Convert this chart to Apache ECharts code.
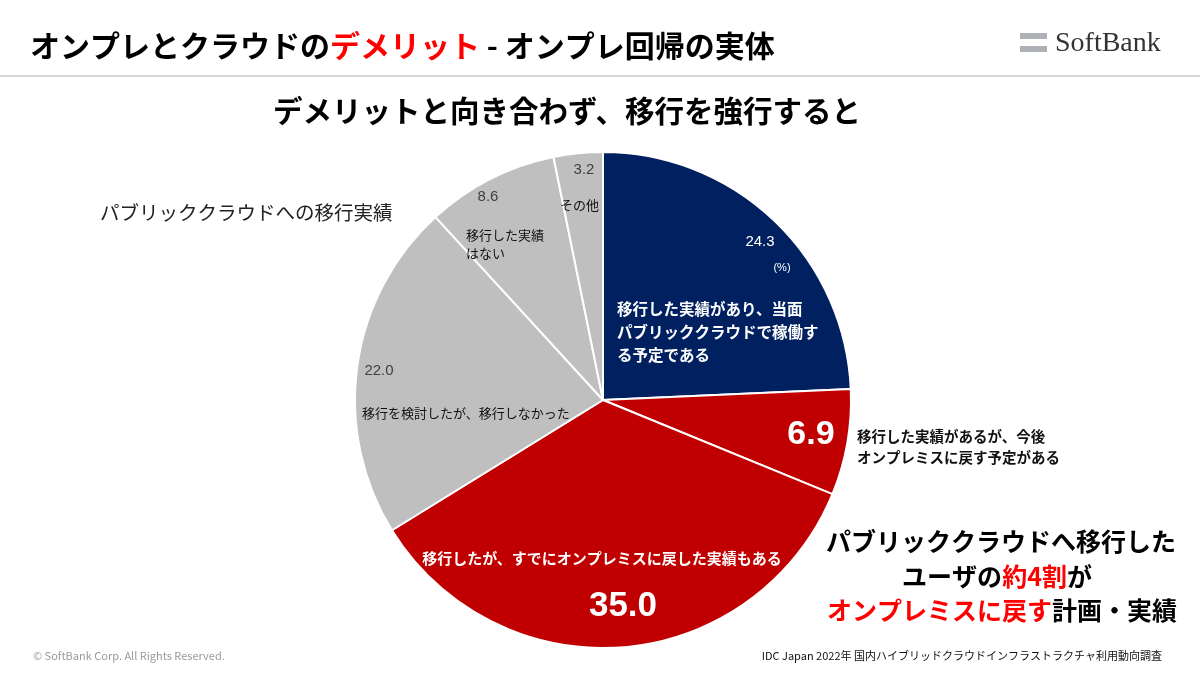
<!DOCTYPE html>
<html><head><meta charset="utf-8">
<script src="https://cdn.jsdelivr.net/npm/echarts@6/dist/echarts.min.js"></script>
<style>html,body{margin:0;padding:0;background:#fff}#c{width:1200px;height:675px}</style>
</head><body><div id="c"></div>
<script>
const categories = ['移行した実績があり、当面パブリッククラウドで稼働する予定である','移行した実績があるが、今後オンプレミスに戻す予定がある','移行したが、すでにオンプレミスに戻した実績もある','移行を検討したが、移行しなかった','移行した実績はない','その他'];
const values = [24.3, 6.9, 35.0, 22.0, 8.6, 3.2];
const colors = ['#002060','#C00000','#C00000','#BFBFBF','#BFBFBF','#BFBFBF'];
const F = '"Noto Sans CJK JP", sans-serif';
const A = 'Arial, "Liberation Sans", sans-serif';
const chart = echarts.init(document.getElementById('c'));
function t(x,y,text,size,color,weight,align,font,lh){
  return {type:'text',x:x,y:y,style:{text:text,fontSize:size,fill:color,fontWeight:weight||'normal',align:align||'left',verticalAlign:'middle',fontFamily:font||F,lineHeight:lh||size*1.35},z:10};
}
function rt(x,y,text,size){
  return {type:'text',x:x,y:y,z:10,style:{rich:{a:{fontSize:size,fontWeight:'bold',fill:'#000',fontFamily:F},r:{fontSize:size,fontWeight:'bold',fill:'#FF0000',fontFamily:F}},text:text,align:'center',verticalAlign:'middle'}};
}
const fmt = v => v.toFixed(1);
chart.setOption({
  animation:false,
  backgroundColor:'#fff',
  series:[{
    type:'pie', center:[603,400], radius:[0,248], startAngle:90, clockwise:true,
    label:{show:false}, labelLine:{show:false}, silent:true,
    itemStyle:{borderColor:'#fff',borderWidth:2},
    data: values.map((v,i)=>({name:categories[i],value:v,itemStyle:{color:colors[i]}}))
  }],
  graphic:[
    {type:'line',shape:{x1:0,y1:76,x2:1200,y2:76},style:{stroke:'#C8C8C8',lineWidth:1.5}},
    {type:'text',x:30,y:46,style:{rich:{a:{fontSize:30,fontWeight:'bold',fill:'#000',fontFamily:F},r:{fontSize:30,fontWeight:'bold',fill:'#FF0000',fontFamily:F}},text:'{a|オンプレとクラウドの}{r|デメリット}{a| - オンプレ回帰の実体}',verticalAlign:'middle'}},
    {type:'rect',shape:{x:1020,y:33,width:27,height:6},style:{fill:'#AEB2B6'}},
    {type:'rect',shape:{x:1020,y:46,width:27,height:6},style:{fill:'#AEB2B6'}},
    t(1055,44,'SoftBank',28,'#333','normal','left','"Liberation Serif","DejaVu Serif",serif'),
    t(567,111,'デメリットと向き合わず、移行を強行すると',29.5,'#000','bold','center'),
    t(100,213,'パブリッククラウドへの移行実績',19.5,'#222','normal','left'),
    t(760,242,fmt(values[0]),15,'#fff','normal','center',A),
    t(782,268,'(%)',11,'#fff','normal','center',A),
    t(617,332,'移行した実績があり、当面\nパブリッククラウドで稼働す\nる予定である',15.5,'#fff','bold','left',F,23),
    t(811,435,fmt(values[1]),34,'#fff','bold','center',A),
    t(857,447,'移行した実績があるが、今後\nオンプレミスに戻す予定がある',14.5,'#111','bold','left',F,21),
    t(602,558,'移行したが、すでにオンプレミスに戻した実績もある',15,'#fff','bold','center'),
    t(623,606,fmt(values[2]),35,'#fff','bold','center',A),
    t(379,371,fmt(values[3]),15,'#404040','normal','center',A),
    t(362,413,'移行を検討したが、移行しなかった',13,'#111','normal','left'),
    t(488,197,fmt(values[4]),15,'#404040','normal','center',A),
    t(466,244,'移行した実績\nはない',13,'#111','normal','left',F,18),
    t(584,170,fmt(values[5]),15,'#404040','normal','center',A),
    t(560,205,'その他',13,'#111','normal','left'),
    rt(1001,541,'{a|パブリッククラウドへ移行した}',25),
    rt(997,576,'{a|ユーザの}{r|約4割}{a|が}',25),
    rt(1002,610,'{r|オンプレミスに戻す}{a|計画・実績}',25),
    t(33,656,'© SoftBank Corp. All Rights Reserved.',11,'#9A9A9A','normal','left'),
    t(1162,656,'IDC Japan 2022年 国内ハイブリッドクラウドインフラストラクチャ利用動向調査',11,'#111','normal','right')
  ]
});
</script></body></html>
